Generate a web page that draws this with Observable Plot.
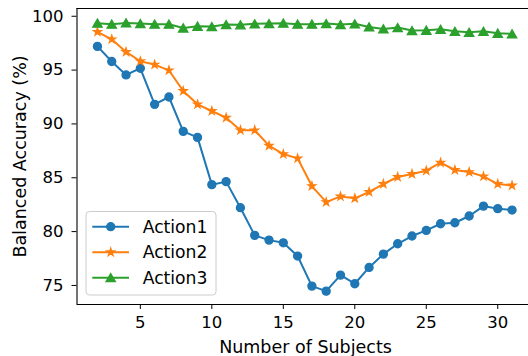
<!DOCTYPE html>
<html><head><meta charset="utf-8">
<script src="https://cdn.jsdelivr.net/npm/d3@7"></script>
<script src="https://cdn.jsdelivr.net/npm/@observablehq/plot@0.6"></script>
<style>body{margin:0;background:#fff} svg{display:block}</style>
</head><body><div id="chart"></div>
<script>
const subjects = [2,3,4,5,6,7,8,9,10,11,12,13,14,15,16,17,18,19,20,21,22,23,24,25,26,27,28,29,30,31];
const action1 = [97.2,95.8,94.55,95.17,91.82,92.5,89.31,88.75,84.36,84.64,82.22,79.65,79.21,78.96,77.73,74.94,74.47,75.96,75.16,76.67,77.91,78.87,79.59,80.11,80.73,80.82,81.45,82.37,82.13,82.0];
const action2 = [98.55,97.86,96.69,95.82,95.51,94.98,93.06,91.82,91.2,90.58,89.41,89.41,87.98,87.2,86.8,84.23,82.74,83.27,83.09,83.68,84.42,85.07,85.35,85.66,86.4,85.72,85.53,85.13,84.42,84.29];
const action3 = [99.36,99.26,99.38,99.32,99.26,99.26,98.91,99.07,99.04,99.23,99.2,99.3,99.32,99.36,99.26,99.26,99.32,99.23,99.3,99.01,98.82,98.95,98.67,98.7,98.79,98.6,98.51,98.6,98.42,98.36];
const seriesNames = ["Action1","Action2","Action3"];
const seriesColors = ["#1f77b4","#ff7f0e","#2ca02c"];
const seriesSymbols = ["circle","star","triangle"];
const xTicks = [5,10,15,20,25,30];
const yTicks = [75,80,85,90,95,100];

const values = [action1, action2, action3];
const rows = [];
seriesNames.forEach((name, s) => values[s].forEach((v, i) => rows.push({series: name, x: subjects[i], y: v})));

const xDomain = [0.57, 32.15];
const yDomain = [73.23, 100.72];
const symR = {circle: 4, star: 2.4, triangle: 3.45};
const symDy = {circle: 0, star: 0, triangle: 1.3};

const marks = [];
seriesNames.forEach((name, s) => {
  const data = rows.filter(d => d.series === name);
  marks.push(Plot.line(data, {x: "x", y: "y", stroke: seriesColors[s], strokeWidth: 2}));
  marks.push(Plot.dot(data, {x: "x", y: "y", symbol: seriesSymbols[s], r: symR[seriesSymbols[s]], dy: symDy[seriesSymbols[s]], fill: seriesColors[s], stroke: seriesColors[s], strokeWidth: 1.33}));
});

const chart = Plot.plot({
  width: 528, height: 356,
  marginLeft: 76.5, marginRight: 0, marginTop: 8, marginBottom: 52,
  style: {fontFamily: "DejaVu Sans", fontSize: "16.5px", background: "white", color: "black", overflow: "visible"},
  x: {domain: xDomain},
  y: {domain: yDomain},
  marks: [
    Plot.axisX({ticks: xTicks, tickSize: 5, tickPadding: 6.3, label: null, stroke: "black", fill: "black", fontSize: 16.5}),
    Plot.axisY({ticks: yTicks, tickSize: 5, tickPadding: 8.5, label: null, stroke: "black", fill: "black", fontSize: 16.5}),
    Plot.ruleX([xDomain[0]], {stroke: "black", strokeWidth: 1.1}),
    Plot.ruleY([yDomain[0], yDomain[1]], {stroke: "black", strokeWidth: 1.1}),
    ...marks,
    Plot.text(["Number of Subjects"], {frameAnchor: "bottom", dy: 42.4, dx: 2.8, lineAnchor: "middle", textAnchor: "middle", fill: "black", fontSize: 17.5}),
    Plot.text(["Balanced Accuracy (%)"], {frameAnchor: "left", dx: -56.5, rotate: -90, lineAnchor: "middle", textAnchor: "middle", fill: "black", fontSize: 17.5})
  ]
});
document.getElementById("chart").appendChild(chart);

// legend (matplotlib-style, lower left)
const svg = d3.select(chart);
const lg = svg.append("g").attr("font-family", "DejaVu Sans").attr("font-size", 17.2).attr("text-anchor", "start");
lg.append("rect").attr("x", 86).attr("y", 211.5).attr("width", 130).attr("height", 83.5)
  .attr("rx", 3.5).attr("fill", "white").attr("fill-opacity", 0.8).attr("stroke", "#cccccc").attr("stroke-width", 1);
const symSize = {circle: Math.PI*16, star: Math.PI*2.4*2.4, triangle: Math.PI*3.45*3.45};
const d3sym = {circle: d3.symbolCircle, star: d3.symbolStar, triangle: d3.symbolTriangle};
seriesNames.forEach((name, s) => {
  const y = 226.7 + s * 25.5;
  lg.append("line").attr("x1", 92.3).attr("x2", 129).attr("y1", y).attr("y2", y)
    .attr("stroke", seriesColors[s]).attr("stroke-width", 2);
  lg.append("path").attr("d", d3.symbol(d3sym[seriesSymbols[s]], symSize[seriesSymbols[s]])())
    .attr("transform", `translate(110.7,${y + symDy[seriesSymbols[s]]})`)
    .attr("fill", seriesColors[s]).attr("stroke", seriesColors[s]).attr("stroke-width", 1.33);
  lg.append("text").attr("x", 142.7).attr("y", y + 6).attr("fill", "black").attr("text-anchor", "start").text(name);
});
</script>
</body></html>
